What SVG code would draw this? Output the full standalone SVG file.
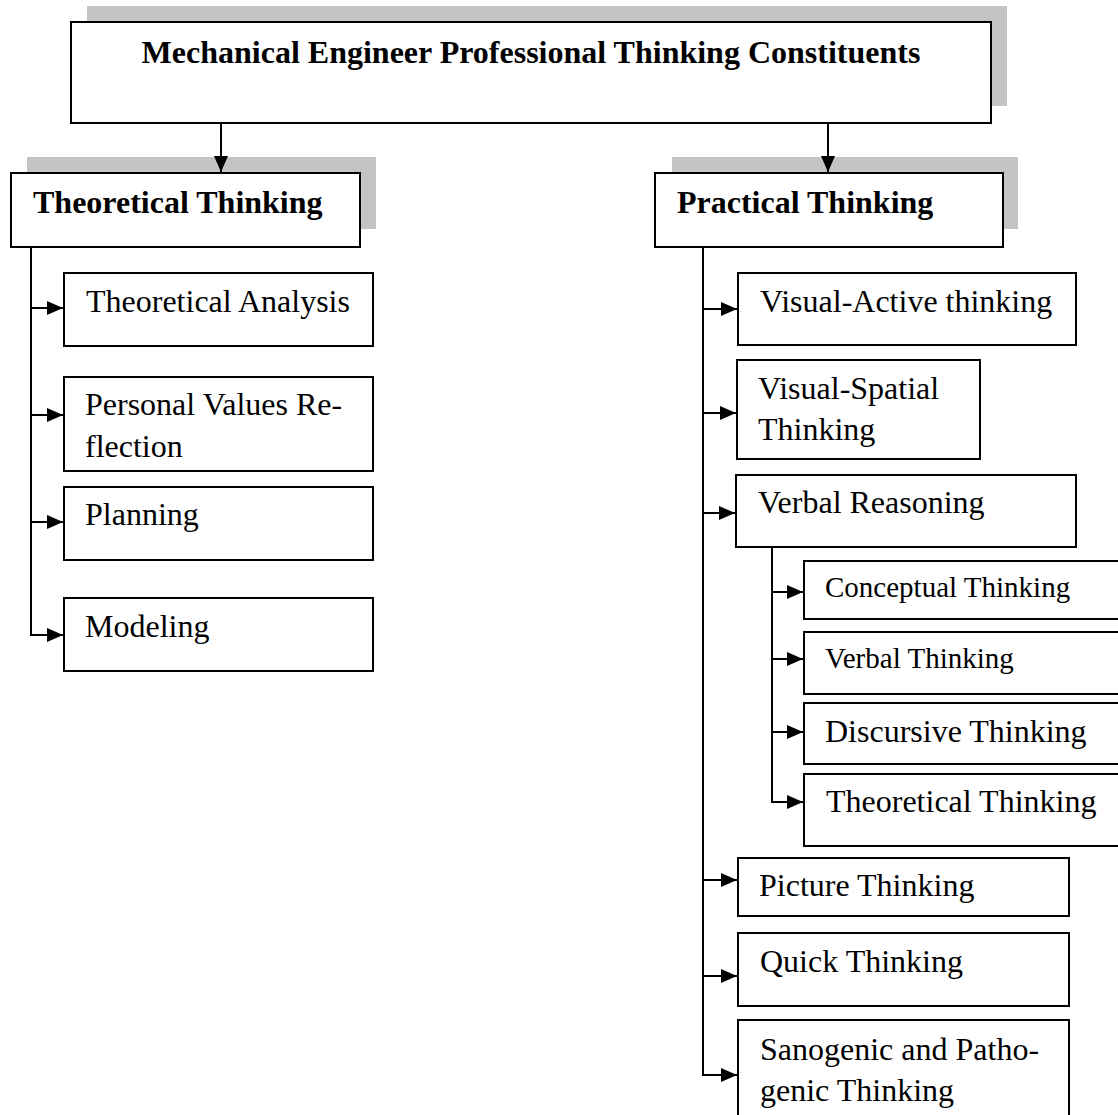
<svg xmlns="http://www.w3.org/2000/svg" width="1118" height="1115" viewBox="0 0 1118 1115">
<style>
.box{fill:#fff;stroke:#000;stroke-width:2}
.shadow{fill:#c4c4c4}
.t{font-family:"Liberation Serif","Times New Roman",serif;font-size:32px;fill:#000}
.s{font-size:29px}
.b{font-weight:bold}
.c{fill:none;stroke:#000;stroke-width:2}
</style>
<defs>
<marker id="ah" markerUnits="userSpaceOnUse" markerWidth="17" markerHeight="15" refX="16" refY="7" orient="auto">
<path d="M0,0 L16,7 L0,14 z" fill="#000"/>
</marker>
</defs>
<rect width="1118" height="1115" fill="#fff"/>

<g id="root">
<rect class="shadow" x="87" y="6" width="920" height="100"/>
<rect class="box" x="71" y="22" width="920" height="101"/>
<text class="t b" x="531" y="63" text-anchor="middle">Mechanical Engineer Professional Thinking Constituents</text>
</g>

<g id="theoretical">
<rect class="shadow" x="27" y="157" width="349" height="72"/>
<rect class="box" x="11" y="173" width="349" height="74"/>
<text class="t b" x="33" y="213">Theoretical Thinking</text>
</g>

<g id="practical">
<rect class="shadow" x="672" y="157" width="346" height="72"/>
<rect class="box" x="655" y="173" width="348" height="74"/>
<text class="t b" x="677" y="213">Practical Thinking</text>
</g>

<g id="theoretical-analysis">
<rect class="box" x="64" y="273" width="309" height="73"/>
<text class="t" x="86" y="312">Theoretical Analysis</text>
</g>
<g id="personal-values">
<rect class="box" x="64" y="377" width="309" height="94"/>
<text class="t" x="85" y="415">Personal Values Re-</text>
<text class="t" x="85" y="457">flection</text>
</g>
<g id="planning">
<rect class="box" x="64" y="487" width="309" height="73"/>
<text class="t" x="85" y="525">Planning</text>
</g>
<g id="modeling">
<rect class="box" x="64" y="598" width="309" height="73"/>
<text class="t" x="85" y="637">Modeling</text>
</g>

<g id="visual-active">
<rect class="box" x="738" y="273" width="338" height="72"/>
<text class="t" x="760" y="312">Visual-Active thinking</text>
</g>
<g id="visual-spatial">
<rect class="box" x="737" y="360" width="243" height="99"/>
<text class="t" x="758" y="399">Visual-Spatial</text>
<text class="t" x="758" y="440">Thinking</text>
</g>
<g id="verbal-reasoning">
<rect class="box" x="736" y="475" width="340" height="72"/>
<text class="t" x="758" y="513">Verbal Reasoning</text>
</g>
<g id="conceptual">
<rect class="box" x="804" y="561" width="330" height="58"/>
<text class="t s" x="825" y="597">Conceptual Thinking</text>
</g>
<g id="verbal-thinking">
<rect class="box" x="804" y="632" width="330" height="62"/>
<text class="t s" x="825" y="668">Verbal Thinking</text>
</g>
<g id="discursive">
<rect class="box" x="804" y="703" width="330" height="61"/>
<text class="t" x="825" y="742">Discursive Thinking</text>
</g>
<g id="theoretical-thinking-2">
<rect class="box" x="804" y="774" width="330" height="72"/>
<text class="t" x="826" y="812">Theoretical Thinking</text>
</g>
<g id="picture">
<rect class="box" x="738" y="858" width="331" height="58"/>
<text class="t" x="759" y="896">Picture Thinking</text>
</g>
<g id="quick">
<rect class="box" x="738" y="933" width="331" height="73"/>
<text class="t" x="760" y="972">Quick Thinking</text>
</g>
<g id="sanogenic">
<rect class="box" x="738" y="1020" width="331" height="110"/>
<text class="t" x="760" y="1060">Sanogenic and Patho-</text>
<text class="t" x="760" y="1101">genic Thinking</text>
</g>

<g id="connectors">
<path class="c" d="M221,124 V172" marker-end="url(#ah)"/>
<path class="c" d="M828,124 V172" marker-end="url(#ah)"/>
<path class="c" d="M31,248 V635"/>
<path class="c" d="M30,308 H63" marker-end="url(#ah)"/>
<path class="c" d="M30,415 H63" marker-end="url(#ah)"/>
<path class="c" d="M30,522 H63" marker-end="url(#ah)"/>
<path class="c" d="M30,635 H63" marker-end="url(#ah)"/>
<path class="c" d="M703,248 V1075"/>
<path class="c" d="M702,309 H737" marker-end="url(#ah)"/>
<path class="c" d="M702,413 H736" marker-end="url(#ah)"/>
<path class="c" d="M702,513 H735" marker-end="url(#ah)"/>
<path class="c" d="M772,548 V802"/>
<path class="c" d="M771,592 H803" marker-end="url(#ah)"/>
<path class="c" d="M771,659 H803" marker-end="url(#ah)"/>
<path class="c" d="M771,732 H803" marker-end="url(#ah)"/>
<path class="c" d="M771,802 H803" marker-end="url(#ah)"/>
<path class="c" d="M702,880 H737" marker-end="url(#ah)"/>
<path class="c" d="M702,976 H737" marker-end="url(#ah)"/>
<path class="c" d="M702,1075 H737" marker-end="url(#ah)"/>
</g>
</svg>
